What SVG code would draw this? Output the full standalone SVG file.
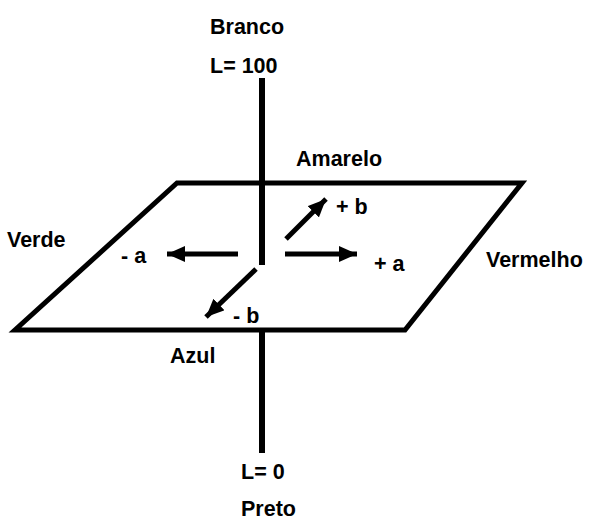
<svg xmlns="http://www.w3.org/2000/svg" width="600" height="521" viewBox="0 0 600 521">
<style>
text{font-family:"Liberation Sans",Arial,sans-serif;font-weight:bold;font-size:21.5px;fill:#000}
.ln{stroke:#000;stroke-width:6;fill:none}
.ar{stroke:#000;stroke-width:5;fill:none}
</style>
<defs>
<marker id="ah" markerUnits="userSpaceOnUse" markerWidth="20" markerHeight="16" refX="18" refY="8" orient="auto">
<path d="M0,0 L18,8 L0,16 Z" fill="#000"/>
</marker>
</defs>
<rect width="600" height="521" fill="#fff"/>
<g id="connectors">
<polygon id="plane" class="ar" points="177,183 522,183 405,330 15,330"/>
<line class="ln" x1="262" y1="78" x2="262" y2="265"/>
<line class="ln" x1="262" y1="330" x2="262" y2="453"/>
<line class="ar" x1="238" y1="254" x2="167" y2="254" marker-end="url(#ah)"/>
<line class="ar" x1="285" y1="254" x2="357" y2="254" marker-end="url(#ah)"/>
<line class="ar" x1="286" y1="239" x2="326" y2="199" marker-end="url(#ah)"/>
<line class="ar" x1="256" y1="269" x2="206" y2="317" marker-end="url(#ah)"/>
</g>
<g id="branco"><text x="210" y="34">Branco</text></g>
<g id="l100"><text x="210" y="73">L= 100</text></g>
<g id="amarelo"><text x="296" y="166">Amarelo</text></g>
<g id="plusb"><text x="336" y="214">+ b</text></g>
<g id="verde"><text x="7" y="247">Verde</text></g>
<g id="minusa"><text x="121" y="263">- a</text></g>
<g id="plusa"><text x="374" y="271">+ a</text></g>
<g id="vermelho"><text x="486" y="267">Vermelho</text></g>
<g id="minusb"><text x="233" y="323">- b</text></g>
<g id="azul"><text x="170" y="363">Azul</text></g>
<g id="l0"><text x="241" y="479">L= 0</text></g>
<g id="preto"><text x="241" y="516">Preto</text></g>
</svg>
